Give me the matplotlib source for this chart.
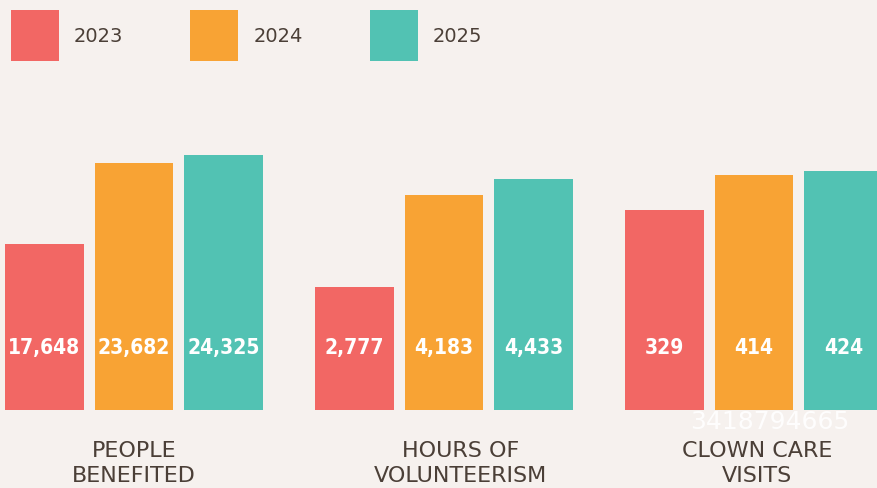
import numpy as np
import matplotlib.pyplot as plt
from matplotlib import transforms
from matplotlib.patches import Patch

# data
years = ['2023', '2024', '2025']
groups = ['PEOPLE\nBENEFITED', 'HOURS OF\nVOLUNTEERISM', 'CLOWN CARE\nVISITS']
people = [17648, 23682, 24325]
hours = [2777, 4183, 4433]
clown = [329, 414, 424]
series = [people, hours, clown]

colors = ['#F26764', '#F8A334', '#52C2B3']
bg = '#F6F1EE'
txt = '#4B3F37'

# each panel has its own scale (the original is an infographic)
ylims = [(5155, 27700), (906, 5480), (-146, 568)]
label_x = [0.5, 0.563, 0.511]

W, H = 877, 489
fig = plt.figure(figsize=(W / 100, H / 100), dpi=100)
fig.patch.set_facecolor(bg)

centers = [134, 444, 754]
pitch = 89.5
for k in range(3):
    left = (centers[k] - 1.5 * pitch) / W
    ax = fig.add_axes([left, 78 / H, 3 * pitch / W, 300 / H])
    ax.set_facecolor('none')
    lo, hi = ylims[k]
    x = np.arange(3)
    vals = np.array(series[k])
    ax.bar(x, vals - lo, bottom=lo, width=0.88, color=colors, linewidth=0)
    ax.set_xlim(-0.5, 2.5)
    ax.set_ylim(lo, hi)
    ax.axis('off')
    tr = transforms.blended_transform_factory(ax.transData, ax.transAxes)
    for i, v in enumerate(vals):
        ax.text(i, 0.21, f'{v:,}', transform=tr, ha='center', va='center',
                color='white', fontsize=15, fontweight='bold',
                fontstretch='condensed', family='DejaVu Sans')
    ax.text(label_x[k], -0.1, groups[k], transform=ax.transAxes,
            ha='center', va='top', fontsize=16, color=txt,
            family='DejaVu Sans', linespacing=1.32, clip_on=False)

handles = [Patch(facecolor=c, edgecolor='none') for c in colors]
fs = 14
em = fs * 100 / 72
fig.legend(handles, years, loc='upper left', bbox_to_anchor=(11 / W, 1 - 11 / H),
           ncol=3, frameon=False, fontsize=fs, labelcolor=txt,
           handlelength=48 / em, handleheight=3.66, handletextpad=15 / em,
           columnspacing=67 / em, borderpad=0, borderaxespad=0)

fig.text(770 / W, 1 - 422 / H, '3418794665', ha='center', va='center',
         fontsize=18, color='white', alpha=0.9)

fig.savefig('out.png', dpi=100, facecolor=bg)
